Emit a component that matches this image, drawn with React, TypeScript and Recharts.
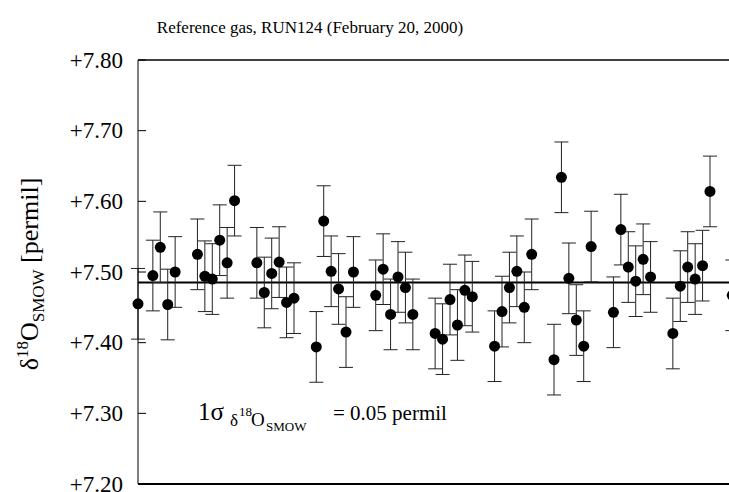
import React from 'react';
import { ComposedChart, Scatter, XAxis, YAxis, ErrorBar, ReferenceLine } from 'recharts';

const slots = [
  0, 2, 3, 4, 5,
  8, 9, 10, 11, 12, 13,
  16, 17, 18, 19, 20, 21,
  24, 25, 26, 27, 28, 29,
  32, 33, 34, 35, 36, 37,
  40, 41, 42, 43, 44, 45,
  48, 49, 50, 51, 52, 53,
  56, 57, 58, 59, 60, 61,
  64, 65, 66, 67, 68, 69,
  72, 73, 74, 75, 76, 77,
  80,
];
const delta18O = [
  7.455, 7.495, 7.535, 7.454, 7.500,
  7.525, 7.494, 7.490, 7.545, 7.513, 7.601,
  7.513, 7.471, 7.498, 7.514, 7.457, 7.463,
  7.394, 7.572, 7.501, 7.476, 7.415, 7.500,
  7.467, 7.504, 7.440, 7.493, 7.478, 7.440,
  7.413, 7.405, 7.461, 7.425, 7.474, 7.465,
  7.395, 7.444, 7.478, 7.501, 7.450, 7.525,
  7.376, 7.634, 7.491, 7.432, 7.395, 7.536,
  7.443, 7.560, 7.507, 7.487, 7.518, 7.493,
  7.413, 7.480, 7.507, 7.490, 7.509, 7.614,
  7.467,
];
const SIGMA = 0.05;
const MEAN = 7.485;
const yTicks = [7.2, 7.3, 7.4, 7.5, 7.6, 7.7, 7.8];

const data = slots.map((x, i) => ({ x, y: delta18O[i], err: SIGMA }));

const FONT = '"Liberation Serif", "DejaVu Serif", serif';

const YTick = (props: any) => {
  const { x, y, payload } = props;
  return (
    <g>
      <line x1={x} x2={x + 8} y1={y} y2={y} stroke="#000" />
      <text x={x - 15} y={y} textAnchor="end" dominantBaseline="central" fontSize={23} fontFamily={FONT} fill="#000">
        +{Number(payload.value).toFixed(2)}
      </text>
    </g>
  );
};

const Dot = (props: any) => <circle cx={props.cx} cy={props.cy} r={5.5} fill="#000" />;

export default function App() {
  return (
    <div style={{ position: 'absolute', left: 0, top: 0, width: 729, height: 492, overflow: 'hidden', background: '#fff' }}>
      <ComposedChart width={762} height={492} data={data} margin={{ top: 60, right: 0, bottom: 7, left: 58 }}>
        <XAxis
          type="number"
          dataKey="x"
          domain={[0, 84]}
          tick={false}
          tickLine={false}
          height={1}
          axisLine={{ stroke: '#000', strokeWidth: 1.5 }}
        />
        <YAxis
          type="number"
          dataKey="y"
          domain={[7.2, 7.8]}
          ticks={yTicks}
          interval={0}
          allowDataOverflow
          width={80}
          tickSize={0}
          tickMargin={0}
          tickLine={false}
          tick={<YTick />}
          axisLine={{ stroke: '#000' }}
        />
        <ReferenceLine y={7.8} stroke="#000" strokeWidth={1.5} ifOverflow="visible" />
        <ReferenceLine y={7.2} stroke="#000" strokeWidth={2} ifOverflow="visible" />
        <ReferenceLine y={MEAN} stroke="#000" strokeWidth={2} />
        <Scatter dataKey="y" shape={<Dot />} isAnimationActive={false}>
          <ErrorBar dataKey="err" direction="y" width={7} stroke="#222" strokeWidth={1} isAnimationActive={false} />
        </Scatter>
      </ComposedChart>
      <svg width={729} height={492} style={{ position: 'absolute', left: 0, top: 0, pointerEvents: 'none' }}>
        <text x={310} y={33} textAnchor="middle" fontSize={17} fontFamily={FONT} fill="#000">
          Reference gas, RUN124 (February 20, 2000)
        </text>
        <text transform="translate(38,274) rotate(-90)" textAnchor="middle" fontSize={26} fontFamily={FONT} fill="#000">
          δ<tspan fontSize={17} dy={-10}>18</tspan>
          <tspan dy={10}>O</tspan>
          <tspan fontSize={17} dy={6}>SMOW</tspan>
          <tspan dy={-6}> [permil]</tspan>
        </text>
        <text y={420} fontSize={21} fontFamily={FONT} fill="#000">
          <tspan x={198} fontSize={25}>1σ</tspan>
          <tspan x={230} fontSize={17} dy={6}>δ</tspan>
          <tspan x={239} fontSize={13} dy={-10}>18</tspan>
          <tspan x={251} fontSize={19} dy={10}>O</tspan>
          <tspan x={266} fontSize={13} dy={5}>SMOW</tspan>
          <tspan x={333} dy={-11}>= 0.05 permil</tspan>
        </text>
      </svg>
    </div>
  );
}
